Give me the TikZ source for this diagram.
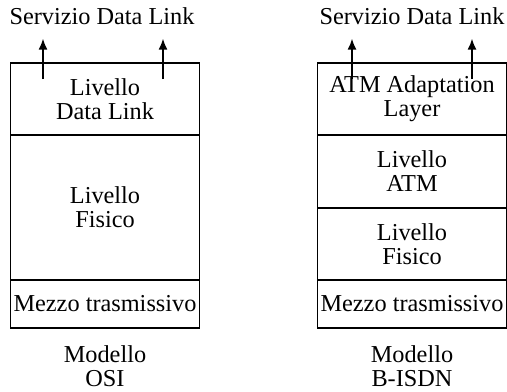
\documentclass[tikz,border=0pt]{standalone}
\usepackage{fontspec}
\setmainfont{Liberation Serif}
\usetikzlibrary{positioning, arrows.meta}
\tikzset{
  livello/.style = {rectangle, draw, line width=0.9pt, minimum width=94.5pt, inner sep=0pt, outer sep=0pt, align=center, font=\fontsize{12.15}{12}\selectfont},
  titolo/.style  = {inner sep=0pt, align=center, font=\fontsize{12.15}{12}\selectfont},
  serv/.style    = {line width=0.8pt, -{Latex[length=5.5pt,width=4.5pt]}}
}

\begin{document}
\begin{tikzpicture}
  \useasboundingbox (0,0) rectangle (253.5pt,-195.5pt);

  % ---------- pila OSI ----------
  \node[livello, minimum height=36pt, anchor=north] (dlL) at (52.5pt,-31.5pt) {Livello\\Data Link};
  \node[livello, minimum height=72.5pt, below=0pt of dlL] (fisL) {Livello\\Fisico};
  \node[livello, minimum height=24pt, below=0pt of fisL] (mezL) {Mezzo trasmissivo};

  \node[titolo, anchor=base] (servL) at (51pt,-12.5pt) {Servizio Data Link};
  \node[titolo, anchor=south] (modL) at (52.5pt,-193.5pt) {Modello\\OSI};

  % ---------- pila B-ISDN ----------
  \node[livello, minimum height=36pt, anchor=north] (aal) at (206pt,-31.5pt) {ATM Adaptation\\Layer};
  \node[livello, minimum height=36.5pt, below=0pt of aal] (atm) {Livello\\ATM};
  \node[livello, minimum height=36pt, below=0pt of atm] (fisR) {Livello\\Fisico};
  \node[livello, minimum height=24pt, below=0pt of fisR] (mezR) {Mezzo trasmissivo};

  \node[titolo, anchor=base] (servR) at (206pt,-12.5pt) {Servizio Data Link};
  \node[titolo, anchor=south] (modR) at (206pt,-193.5pt) {Modello\\B-ISDN};

  % ---------- frecce di servizio ----------
  \coordinate (pL1) at ([xshift=-31pt,yshift=-8pt]dlL.north);
  \coordinate (pL2) at ([xshift=29pt,yshift=-8pt]dlL.north);
  \coordinate (pR1) at ([xshift=-30pt,yshift=-8pt]aal.north);
  \coordinate (pR2) at ([xshift=30pt,yshift=-8pt]aal.north);
  \draw[serv] (pL1) -- ([yshift=-6.5pt]pL1 |- servL.south);
  \draw[serv] (pL2) -- ([yshift=-6.5pt]pL2 |- servL.south);
  \draw[serv] (pR1) -- ([yshift=-6.5pt]pR1 |- servR.south);
  \draw[serv] (pR2) -- ([yshift=-6.5pt]pR2 |- servR.south);

\end{tikzpicture}
\end{document}
